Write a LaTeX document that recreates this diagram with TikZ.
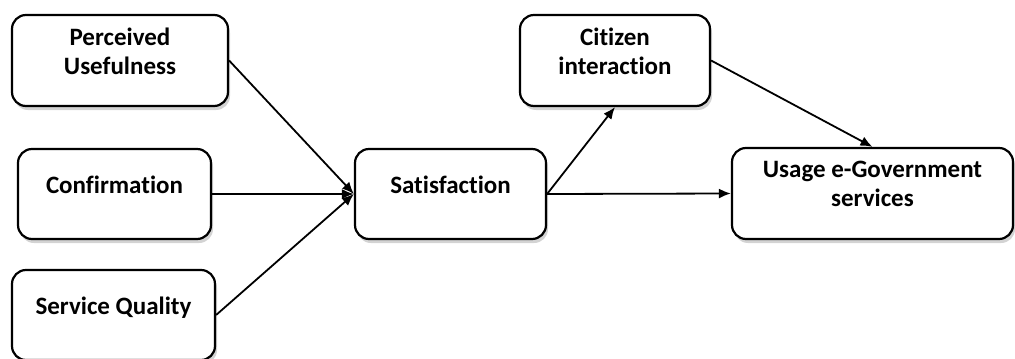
\documentclass[tikz,border=0pt]{standalone}
\usepackage{fontspec}
\setmainfont{Carlito}[Ligatures={NoCommon}]
\usepackage{tikz}
\usetikzlibrary{shadows, arrows.meta}
\newcommand{\btxt}[1]{#1\\[-5pt]\mbox{}}

\begin{document}
\begin{tikzpicture}[x=0.5pt, y=-0.5pt,
            style = {line width=1pt},
            box/.style = {draw, line width=1.1pt, rounded corners=7pt, fill=white, inner sep=0pt,
                align=center, font=\bfseries\fontsize{12.5}{14.5}\selectfont,
                drop shadow={shadow xshift=1pt, shadow yshift=-2pt, opacity=0.35}},
            link/.style = {-{Latex[length=6pt, width=5pt]}, line width=0.9pt}]
            \useasboundingbox (0,0) rectangle (1015,358);
            % left column
            \node (pu) [box, minimum width=108pt, minimum height=45.5pt] at (120,60.5) {\btxt{Perceived\\Usefulness}};
            \node (conf) [box, minimum width=96.5pt, minimum height=45pt] at (114.5,194) {\btxt{Confirmation}};
            \node (sq) [box, minimum width=101.5pt, minimum height=45pt] at (113.5,315) {\btxt{Service Quality}};
            % middle and right
            \node (sat) [box, minimum width=95.5pt, minimum height=45pt] at (450.5,194) {\btxt{Satisfaction}};
            \node (ci) [box, minimum width=95pt, minimum height=45.5pt] at (615,60.5) {\btxt{Citizen\\interaction}};
            \node (use) [box, minimum width=140.5pt, minimum height=45.5pt] at (872.5,193.5) {\btxt{Usage e-Government\\services}};
            % connectors
            \draw[link] (pu.east) -- (sat.west);
            \draw[link] (conf.east) -- (sat.west);
            \draw[link] (sq.east) -- (sat.west);
            \draw[link] (sat.east) -- (ci.south);
            \draw[link] (sat.east) -- (use.west);
            \draw[link] (ci.east) -- (use.north);
\end{tikzpicture}
\end{document}
